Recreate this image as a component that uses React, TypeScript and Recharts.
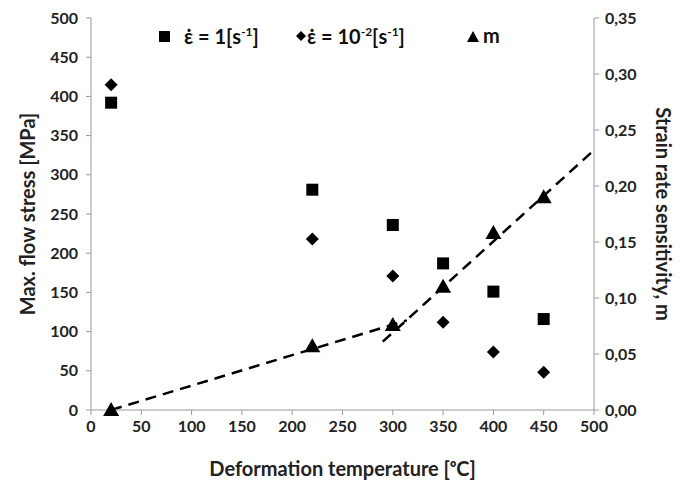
import React from 'react';
import {
  ComposedChart, Scatter, Line, XAxis, YAxis
} from 'recharts';

// Deformation temperature [°C]
const temps = [20, 220, 300, 350, 400, 450];
// max flow stress [MPa] at strain rate 1 s^-1
const stressFast = [392, 281, 236, 187, 151, 116];
// max flow stress [MPa] at strain rate 1e-2 s^-1
const stressSlow = [415, 218, 171, 112, 74, 48];
// strain rate sensitivity m
const mValues = [0, 0.057, 0.076, 0.11, 0.158, 0.19];

// dashed trend lines (endpoints)
const trendLow = [{ x: 20, m: 0 }, { x: 314, m: 0.08 }];
const trendHigh = [{ x: 290, m: 0.061 }, { x: 500, m: 0.232 }];

const xTicks = [0, 50, 100, 150, 200, 250, 300, 350, 400, 450, 500];
const leftTicks = [0, 50, 100, 150, 200, 250, 300, 350, 400, 450, 500];
const rightTicks = [0, 0.05, 0.1, 0.15, 0.2, 0.25, 0.3, 0.35];

const fastData = temps.map((x, i) => ({ x, y: stressFast[i] }));
const slowData = temps.map((x, i) => ({ x, y: stressSlow[i] }));
const mData = temps.map((x, i) => ({ x, m: mValues[i] }));

const FONT = 'Lato, "Open Sans", sans-serif';
const tickStyle = { fill: '#222', fontSize: 16, fontWeight: 700, fontFamily: FONT };

const Square = (p: any) => <rect x={p.cx - 6} y={p.cy - 6} width={12} height={12} fill="#000" />;
const Diamond = (p: any) => (
  <polygon points={`${p.cx},${p.cy - 6.5} ${p.cx + 6.5},${p.cy} ${p.cx},${p.cy + 6.5} ${p.cx - 6.5},${p.cy}`} fill="#000" />
);
const Triangle = (p: any) => (
  <polygon points={`${p.cx},${p.cy - 8} ${p.cx + 8},${p.cy + 6} ${p.cx - 8},${p.cy + 6}`} fill="#000" />
);

// legend drawn as an overlay so it does not push the plot area down
const LegendBox = () => (
  <div style={{ position: 'absolute', left: 0, top: 22, width: 685, height: 30, fontFamily: FONT, fontWeight: 700, fontSize: 20, color: '#111', lineHeight: '28px' }}>
    <svg width={14} height={14} style={{ position: 'absolute', left: 158, top: 8 }}>
      <rect x={1} y={1} width={11} height={11} fill="#000" />
    </svg>
    <span style={{ position: 'absolute', left: 184, top: 0 }}>
      ε̇ = 1[s<sup style={{ fontSize: 12, lineHeight: 0 }}>-1</sup>]
    </span>
    <svg width={12} height={12} style={{ position: 'absolute', left: 296, top: 9 }}>
      <polygon points="5,0 10,5 5,10 0,5" fill="#000" />
    </svg>
    <span style={{ position: 'absolute', left: 307, top: 0 }}>
      ε̇ = 10<sup style={{ fontSize: 12, lineHeight: 0 }}>-2</sup>[s<sup style={{ fontSize: 12, lineHeight: 0 }}>-1</sup>]
    </span>
    <svg width={14} height={14} style={{ position: 'absolute', left: 466, top: 8 }}>
      <polygon points="7,1 13,12 1,12" fill="#000" />
    </svg>
    <span style={{ position: 'absolute', left: 483, top: -1 }}>m</span>
  </div>
);

const App: React.FC = () => {
  return (
    <div style={{ position: 'absolute', left: 0, top: 0, width: 685, height: 484, background: '#fff' }}>
      <ComposedChart width={685} height={484} margin={{ top: 18, right: 0, bottom: 0, left: 0 }}>
        <XAxis
          type="number"
          dataKey="x"
          domain={[0, 500]}
          ticks={xTicks}
          height={74}
          stroke="#999"
          tickSize={5}
          tick={tickStyle}
          tickMargin={6}
          allowDataOverflow
          label={{ value: 'Deformation temperature [ᵒC]', position: 'insideBottom', offset: 8, style: { fill: '#222', fontSize: 20, fontWeight: 700, fontFamily: FONT } }}
        />
        <YAxis
          yAxisId="left"
          domain={[0, 500]}
          ticks={leftTicks}
          width={91}
          stroke="#999"
          tickSize={5}
          tick={tickStyle}
          tickMargin={8}
          label={{ value: 'Max. flow stress [MPa]', angle: -90, position: 'insideLeft', offset: 28, style: { textAnchor: 'middle', fill: '#222', fontSize: 20, fontWeight: 700, fontFamily: FONT } }}
        />
        <YAxis
          yAxisId="right"
          orientation="right"
          domain={[0, 0.35]}
          ticks={rightTicks}
          width={91}
          stroke="#999"
          tickSize={5}
          tick={tickStyle}
          tickMargin={6}
          tickFormatter={(v: number) => v.toFixed(2).replace('.', ',')}
          label={{ value: 'Strain rate sensitivity, m', angle: 90, position: 'insideRight', offset: 22, style: { textAnchor: 'middle', fill: '#222', fontSize: 20, fontWeight: 700, fontFamily: FONT } }}
        />
        <Line yAxisId="right" data={trendLow} dataKey="m" stroke="#000" strokeWidth={2.5} strokeDasharray="11 7" dot={false} isAnimationActive={false} legendType="none" />
        <Line yAxisId="right" data={trendHigh} dataKey="m" stroke="#000" strokeWidth={2.5} strokeDasharray="11 7" dot={false} isAnimationActive={false} legendType="none" />
        <Scatter yAxisId="left" data={fastData} dataKey="y" shape={Square} isAnimationActive={false} />
        <Scatter yAxisId="left" data={slowData} dataKey="y" shape={Diamond} isAnimationActive={false} />
        <Scatter yAxisId="right" data={mData} dataKey="m" shape={Triangle} isAnimationActive={false} />
      </ComposedChart>
      <LegendBox />
    </div>
  );
};

export default App;
